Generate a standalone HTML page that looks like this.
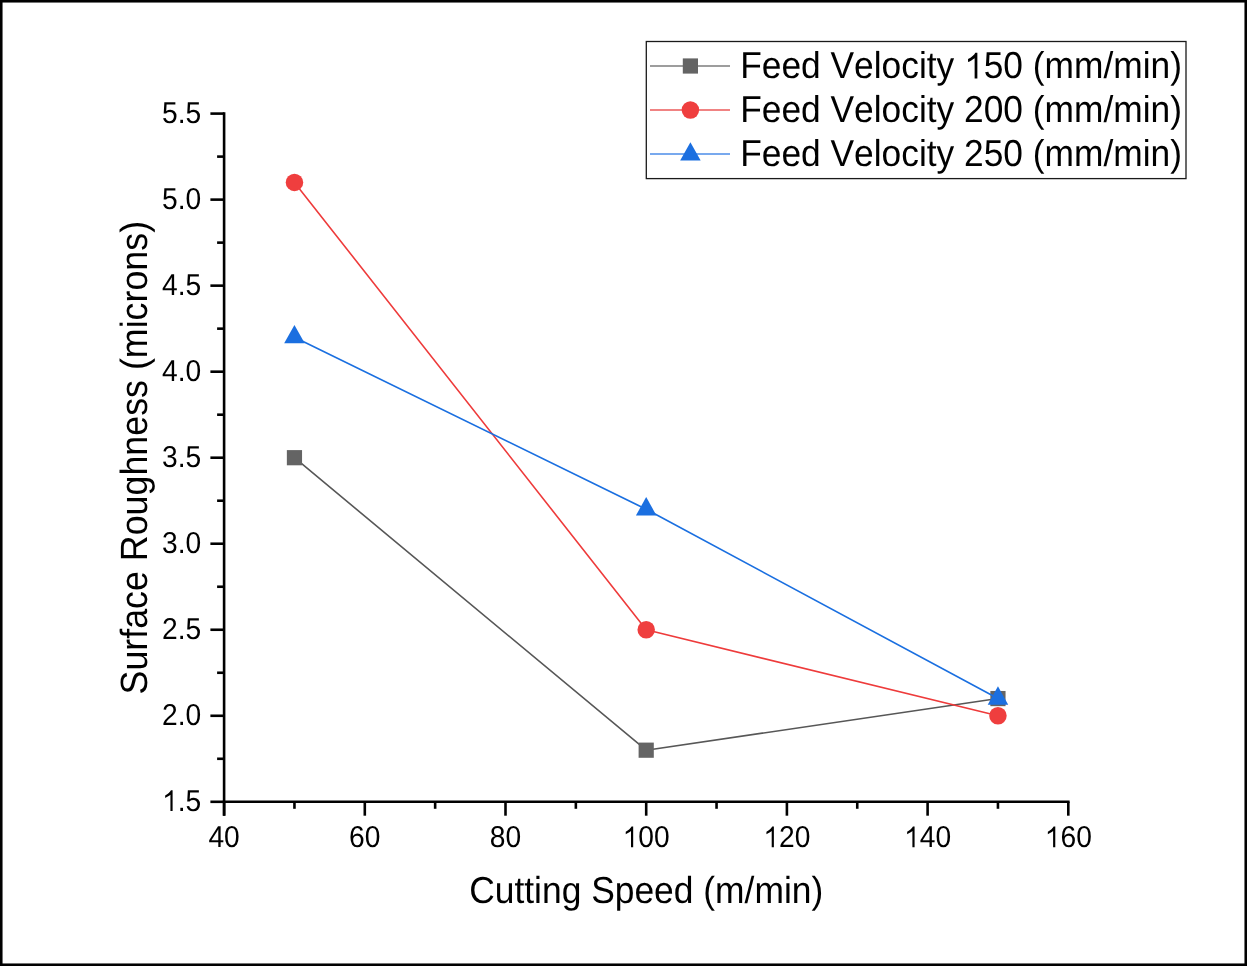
<!DOCTYPE html>
<html><head><meta charset="utf-8"><style>
html,body{margin:0;padding:0;background:#fff;}
svg{display:block;will-change:transform;}
text{font-family:"Liberation Sans",sans-serif;fill:#000;text-rendering:geometricPrecision;font-kerning:none;}
</style></head><body>
<svg width="1247" height="966" viewBox="0 0 1247 966">
<rect x="0" y="0" width="1247" height="966" fill="#fff"/>
<rect x="1.25" y="1.25" width="1244.5" height="963.5" fill="none" stroke="#000" stroke-width="2.6"/>
<polyline points="294.45,457.70 646.20,750.19 997.95,698.57" fill="none" stroke="#575757" stroke-width="1.6" stroke-linejoin="round"/>
<rect x="286.85" y="450.10" width="15.2" height="15.2" fill="#646464"/>
<rect x="638.60" y="742.59" width="15.2" height="15.2" fill="#646464"/>
<rect x="990.35" y="690.97" width="15.2" height="15.2" fill="#646464"/>
<polyline points="294.45,182.42 646.20,629.75 997.95,715.78" fill="none" stroke="#ee3b3b" stroke-width="1.6" stroke-linejoin="round"/>
<circle cx="294.45" cy="182.42" r="8.75" fill="#ef3e3e"/>
<circle cx="646.20" cy="629.75" r="8.75" fill="#ef3e3e"/>
<circle cx="997.95" cy="715.78" r="8.75" fill="#ef3e3e"/>
<polyline points="294.45,337.26 646.20,509.31 997.95,698.57" fill="none" stroke="#1a6fe0" stroke-width="1.6" stroke-linejoin="round"/>
<polygon points="294.45,325.06 304.70,343.37 284.20,343.37" fill="#1b6fe0"/>
<polygon points="646.20,497.11 656.45,515.41 635.95,515.41" fill="#1b6fe0"/>
<polygon points="997.95,686.37 1008.20,704.67 987.70,704.67" fill="#1b6fe0"/>
<line x1="224.10" y1="112.30" x2="224.10" y2="815.80" stroke="#000" stroke-width="2.6"/>
<line x1="222.80" y1="801.80" x2="1069.60" y2="801.80" stroke="#000" stroke-width="2.6"/>
<line x1="210.40" y1="801.80" x2="224.10" y2="801.80" stroke="#000" stroke-width="2.6"/>
<line x1="217.10" y1="758.79" x2="224.10" y2="758.79" stroke="#000" stroke-width="2.6"/>
<line x1="210.40" y1="715.78" x2="224.10" y2="715.78" stroke="#000" stroke-width="2.6"/>
<line x1="217.10" y1="672.76" x2="224.10" y2="672.76" stroke="#000" stroke-width="2.6"/>
<line x1="210.40" y1="629.75" x2="224.10" y2="629.75" stroke="#000" stroke-width="2.6"/>
<line x1="217.10" y1="586.74" x2="224.10" y2="586.74" stroke="#000" stroke-width="2.6"/>
<line x1="210.40" y1="543.73" x2="224.10" y2="543.73" stroke="#000" stroke-width="2.6"/>
<line x1="217.10" y1="500.71" x2="224.10" y2="500.71" stroke="#000" stroke-width="2.6"/>
<line x1="210.40" y1="457.70" x2="224.10" y2="457.70" stroke="#000" stroke-width="2.6"/>
<line x1="217.10" y1="414.69" x2="224.10" y2="414.69" stroke="#000" stroke-width="2.6"/>
<line x1="210.40" y1="371.68" x2="224.10" y2="371.68" stroke="#000" stroke-width="2.6"/>
<line x1="217.10" y1="328.66" x2="224.10" y2="328.66" stroke="#000" stroke-width="2.6"/>
<line x1="210.40" y1="285.65" x2="224.10" y2="285.65" stroke="#000" stroke-width="2.6"/>
<line x1="217.10" y1="242.64" x2="224.10" y2="242.64" stroke="#000" stroke-width="2.6"/>
<line x1="210.40" y1="199.62" x2="224.10" y2="199.62" stroke="#000" stroke-width="2.6"/>
<line x1="217.10" y1="156.61" x2="224.10" y2="156.61" stroke="#000" stroke-width="2.6"/>
<line x1="210.40" y1="113.60" x2="224.10" y2="113.60" stroke="#000" stroke-width="2.6"/>
<line x1="224.10" y1="801.80" x2="224.10" y2="815.70" stroke="#000" stroke-width="2.6"/>
<line x1="294.45" y1="801.80" x2="294.45" y2="808.80" stroke="#000" stroke-width="2.6"/>
<line x1="364.80" y1="801.80" x2="364.80" y2="815.70" stroke="#000" stroke-width="2.6"/>
<line x1="435.15" y1="801.80" x2="435.15" y2="808.80" stroke="#000" stroke-width="2.6"/>
<line x1="505.50" y1="801.80" x2="505.50" y2="815.70" stroke="#000" stroke-width="2.6"/>
<line x1="575.85" y1="801.80" x2="575.85" y2="808.80" stroke="#000" stroke-width="2.6"/>
<line x1="646.20" y1="801.80" x2="646.20" y2="815.70" stroke="#000" stroke-width="2.6"/>
<line x1="716.55" y1="801.80" x2="716.55" y2="808.80" stroke="#000" stroke-width="2.6"/>
<line x1="786.90" y1="801.80" x2="786.90" y2="815.70" stroke="#000" stroke-width="2.6"/>
<line x1="857.25" y1="801.80" x2="857.25" y2="808.80" stroke="#000" stroke-width="2.6"/>
<line x1="927.60" y1="801.80" x2="927.60" y2="815.70" stroke="#000" stroke-width="2.6"/>
<line x1="997.95" y1="801.80" x2="997.95" y2="808.80" stroke="#000" stroke-width="2.6"/>
<line x1="1068.30" y1="801.80" x2="1068.30" y2="815.70" stroke="#000" stroke-width="2.6"/>
<g transform="translate(0 811.05) scale(1 1.07)"><text x="162.098" y="0" font-size="28.2"><tspan fill="transparent">1</tspan>.5</text><path transform="translate(162.098 0) scale(0.01377 -0.01377)" d="M763 0L605 0L605 1102.3C545 1062.9 483 1022.5 413 983.1C343 943.7 280 913.9 223 893.7L223 1060.9C323 1106.1 411 1160.9 486 1225.3C561 1289.7 614 1351.2 645 1408.8L763 1408.8Z"/></g>
<g transform="translate(0 725.03) scale(1 1.07)"><text x="162.098" y="0" font-size="28.2">2.0</text></g>
<g transform="translate(0 639.00) scale(1 1.07)"><text x="162.098" y="0" font-size="28.2">2.5</text></g>
<g transform="translate(0 552.98) scale(1 1.07)"><text x="162.098" y="0" font-size="28.2">3.0</text></g>
<g transform="translate(0 466.95) scale(1 1.07)"><text x="162.098" y="0" font-size="28.2">3.5</text></g>
<g transform="translate(0 380.93) scale(1 1.07)"><text x="162.098" y="0" font-size="28.2">4.0</text></g>
<g transform="translate(0 294.90) scale(1 1.07)"><text x="162.098" y="0" font-size="28.2">4.5</text></g>
<g transform="translate(0 208.88) scale(1 1.07)"><text x="162.098" y="0" font-size="28.2">5.0</text></g>
<g transform="translate(0 122.85) scale(1 1.07)"><text x="162.098" y="0" font-size="28.2">5.5</text></g>
<g transform="translate(0 847.30) scale(1 1.07)"><text x="208.417" y="0" font-size="28.2">40</text></g>
<g transform="translate(0 847.30) scale(1 1.07)"><text x="349.117" y="0" font-size="28.2">60</text></g>
<g transform="translate(0 847.30) scale(1 1.07)"><text x="489.817" y="0" font-size="28.2">80</text></g>
<g transform="translate(0 847.30) scale(1 1.07)"><text x="622.675" y="0" font-size="28.2"><tspan fill="transparent">1</tspan>00</text><path transform="translate(622.675 0) scale(0.01377 -0.01377)" d="M763 0L605 0L605 1102.3C545 1062.9 483 1022.5 413 983.1C343 943.7 280 913.9 223 893.7L223 1060.9C323 1106.1 411 1160.9 486 1225.3C561 1289.7 614 1351.2 645 1408.8L763 1408.8Z"/></g>
<g transform="translate(0 847.30) scale(1 1.07)"><text x="763.375" y="0" font-size="28.2"><tspan fill="transparent">1</tspan>20</text><path transform="translate(763.375 0) scale(0.01377 -0.01377)" d="M763 0L605 0L605 1102.3C545 1062.9 483 1022.5 413 983.1C343 943.7 280 913.9 223 893.7L223 1060.9C323 1106.1 411 1160.9 486 1225.3C561 1289.7 614 1351.2 645 1408.8L763 1408.8Z"/></g>
<g transform="translate(0 847.30) scale(1 1.07)"><text x="904.075" y="0" font-size="28.2"><tspan fill="transparent">1</tspan>40</text><path transform="translate(904.075 0) scale(0.01377 -0.01377)" d="M763 0L605 0L605 1102.3C545 1062.9 483 1022.5 413 983.1C343 943.7 280 913.9 223 893.7L223 1060.9C323 1106.1 411 1160.9 486 1225.3C561 1289.7 614 1351.2 645 1408.8L763 1408.8Z"/></g>
<g transform="translate(0 847.30) scale(1 1.07)"><text x="1044.775" y="0" font-size="28.2"><tspan fill="transparent">1</tspan>60</text><path transform="translate(1044.775 0) scale(0.01377 -0.01377)" d="M763 0L605 0L605 1102.3C545 1062.9 483 1022.5 413 983.1C343 943.7 280 913.9 223 893.7L223 1060.9C323 1106.1 411 1160.9 486 1225.3C561 1289.7 614 1351.2 645 1408.8L763 1408.8Z"/></g>
<text transform="translate(646.2 902.6) scale(1 1.06)" x="0" y="0" text-anchor="middle" font-size="35.4">Cutting Speed (m/min)</text>
<text transform="translate(146.6 457.7) rotate(-90) scale(1 1.06)" x="0" y="0" text-anchor="middle" font-size="35.8">Surface Roughness (microns)</text>
<rect x="646.3" y="41.5" width="539.7" height="137.1" fill="#fff" stroke="#1a1a1a" stroke-width="1.3"/>
<line x1="650" y1="66" x2="730" y2="66" stroke="#9d9d9d" stroke-width="2"/>
<rect x="682.80" y="58.40" width="15.2" height="15.2" fill="#646464"/>
<g transform="translate(0 78.40) scale(1 1.06)"><text x="740.200" y="0" font-size="35.35">Feed Velocity <tspan fill="transparent">1</tspan>50 (mm/min)</text><path transform="translate(964.193 0) scale(0.01726 -0.01726)" d="M763 0L605 0L605 1102.3C545 1062.9 483 1022.5 413 983.1C343 943.7 280 913.9 223 893.7L223 1060.9C323 1106.1 411 1160.9 486 1225.3C561 1289.7 614 1351.2 645 1408.8L763 1408.8Z"/></g>
<line x1="650" y1="110" x2="730" y2="110" stroke="#f08383" stroke-width="2"/>
<circle cx="690.40" cy="110.00" r="8.75" fill="#ef3e3e"/>
<g transform="translate(0 122.40) scale(1 1.06)"><text x="740.200" y="0" font-size="35.35">Feed Velocity 200 (mm/min)</text></g>
<line x1="650" y1="154" x2="730" y2="154" stroke="#78a9ee" stroke-width="2"/>
<polygon points="690.40,142.30 700.65,160.60 680.15,160.60" fill="#1b6fe0"/>
<g transform="translate(0 166.40) scale(1 1.06)"><text x="740.200" y="0" font-size="35.35">Feed Velocity 250 (mm/min)</text></g>
</svg>
</body></html>
